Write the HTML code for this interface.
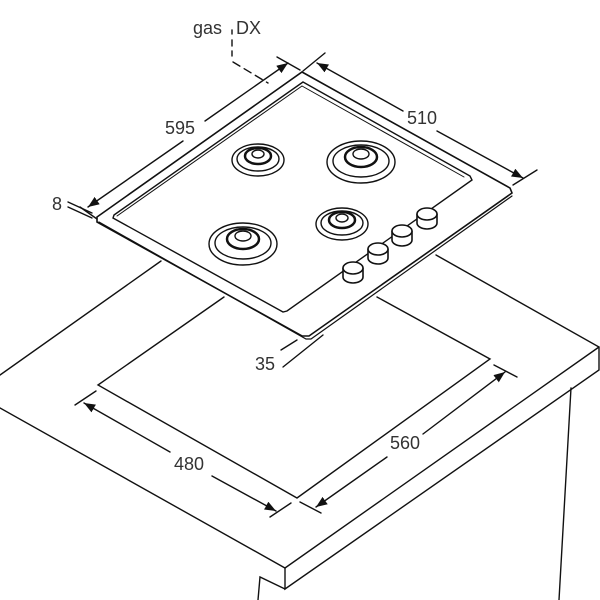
<!DOCTYPE html>
<html><head><style>html,body{margin:0;padding:0;background:#fff;width:600px;height:600px;overflow:hidden}
text{font-family:"Liberation Sans",sans-serif;fill:#333;font-size:18px}</style></head><body>
<svg width="600" height="600" viewBox="0 0 600 600" xmlns="http://www.w3.org/2000/svg">
<defs><marker id="a" viewBox="0 0 10 10" refX="10" refY="5" markerWidth="8" markerHeight="8" orient="auto-start-reverse"><path d="M0,1 L10,5 L0,9 z" fill="#111"/></marker></defs>
<g stroke="#111" stroke-width="1.4" fill="none" stroke-linecap="round">
<!-- countertop -->
<polyline points="0,375 161,261"/>
<polyline points="0,408 285,568 599,347"/>
<polyline points="436,255 599,347 599,370 285,589 285,568"/>
<polyline points="285,589 260,577 258,600"/>
<line x1="571" y1="388" x2="559" y2="600"/>
<!-- cutout -->
<polyline points="224,297 98,385 297,498 490,359 377,297"/>
<!-- dims bottom -->
<line x1="75" y1="405" x2="96" y2="391"/>
<line x1="84" y1="403" x2="170" y2="452" marker-start="url(#a)"/>
<line x1="212" y1="476" x2="276" y2="511" marker-end="url(#a)"/>
<line x1="270" y1="517" x2="291" y2="503"/>
<line x1="300" y1="502" x2="321" y2="513"/>
<line x1="316" y1="507" x2="387" y2="457" marker-start="url(#a)"/>
<line x1="423" y1="434" x2="505" y2="372" marker-end="url(#a)"/>
<line x1="494" y1="365" x2="517" y2="377"/>
<line x1="281" y1="350" x2="297" y2="340"/>
<line x1="283" y1="367" x2="323" y2="335"/>
<!-- hob -->
<path d="M302,72 L510,188 L512,193 L309,336 L302,336 L97,222 L97,217 Z" fill="#fff" stroke-width="1.6"/>
<path d="M99,222 L306,339 L311,339 L512,196" stroke-width="1.2"/>
<path d="M303,82 L470,176 L472,180 L287,311 L283,312 L113,218 L114,215 Z" stroke-width="1.4"/>
<path d="M302,86 L464,177" stroke-width="1"/>
<path d="M117,216 L302,86" stroke-width="1"/>
<!-- burners -->
<g>
<ellipse cx="258" cy="160" rx="26" ry="16"/><ellipse cx="258" cy="159" rx="21" ry="12"/><ellipse cx="258" cy="156" rx="13" ry="8" stroke-width="2.5"/><ellipse cx="258" cy="154" rx="6" ry="4"/>
<ellipse cx="361" cy="162" rx="34" ry="21"/><ellipse cx="361" cy="161" rx="28" ry="16"/><ellipse cx="361" cy="157" rx="16" ry="10" stroke-width="2.5"/><ellipse cx="361" cy="154" rx="8" ry="5"/>
<ellipse cx="243" cy="244" rx="34" ry="21"/><ellipse cx="243" cy="243" rx="28" ry="16"/><ellipse cx="243" cy="239" rx="16" ry="10" stroke-width="2.5"/><ellipse cx="243" cy="236" rx="8" ry="5"/>
<ellipse cx="342" cy="224" rx="26" ry="16"/><ellipse cx="342" cy="223" rx="21" ry="12"/><ellipse cx="342" cy="220" rx="13" ry="8" stroke-width="2.5"/><ellipse cx="342" cy="218" rx="6" ry="4"/>
</g>
<!-- knobs -->
<g fill="#fff" stroke-width="1.6">
<path d="M343,268 v9 a10,6 0 0 0 20,0 v-9"/><ellipse cx="353" cy="268" rx="10" ry="6"/>
<path d="M368,249 v9 a10,6 0 0 0 20,0 v-9"/><ellipse cx="378" cy="249" rx="10" ry="6"/>
<path d="M392,231 v9 a10,6 0 0 0 20,0 v-9"/><ellipse cx="402" cy="231" rx="10" ry="6"/>
<path d="M417,214 v9 a10,6 0 0 0 20,0 v-9"/><ellipse cx="427" cy="214" rx="10" ry="6"/>
</g>
<!-- top dims -->
<line x1="80" y1="207" x2="97" y2="219"/>
<line x1="277" y1="57" x2="300" y2="70"/>
<line x1="88" y1="207" x2="183" y2="141" marker-start="url(#a)"/>
<line x1="205" y1="121" x2="288" y2="63" marker-end="url(#a)"/>
<line x1="325" y1="53" x2="303" y2="71"/>
<line x1="537" y1="170" x2="513" y2="185"/>
<line x1="317" y1="63" x2="403" y2="111" marker-start="url(#a)"/>
<line x1="437" y1="131" x2="523" y2="178" marker-end="url(#a)"/>
<line x1="68" y1="202" x2="92" y2="213"/>
<line x1="68" y1="207" x2="92" y2="218"/>
<line x1="232" y1="30" x2="232" y2="34"/>
<line x1="232" y1="40" x2="232" y2="56" stroke-dasharray="6 5"/>
<line x1="233" y1="62" x2="268" y2="83" stroke-dasharray="8 5"/>
</g>
<text x="193" y="34">gas</text><text x="236" y="34">DX</text>
<text x="165" y="134">595</text><text x="407" y="124">510</text>
<text x="52" y="210">8</text>
<text x="255" y="370">35</text>
<text x="174" y="470">480</text><text x="390" y="449">560</text>
</svg>
</body></html>
